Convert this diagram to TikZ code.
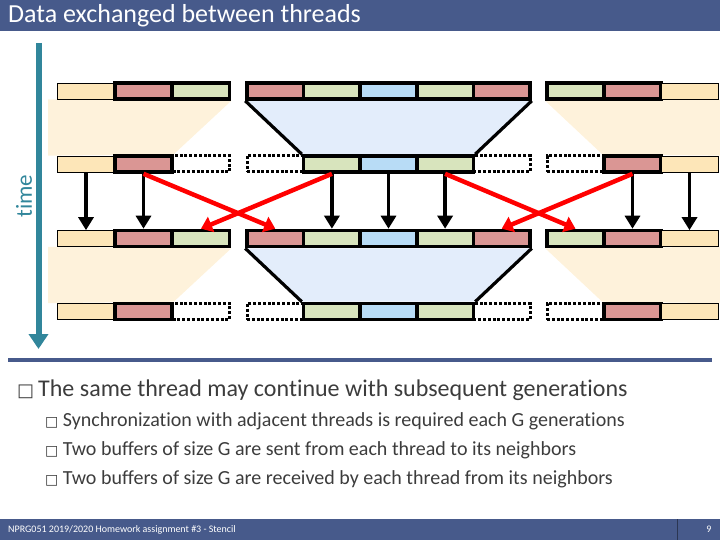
\documentclass[tikz,border=0pt]{standalone}
\usepackage{fontspec}
\setmainfont{Carlito}[Ligatures=NoCommon]
\newfontfamily\symfont{DejaVu Sans}
\usepackage{tikz}
\usetikzlibrary{arrows.meta,positioning,backgrounds}
\definecolor{slate}{HTML}{475A8B}
\definecolor{timeteal}{HTML}{31869B}
\definecolor{peach}{HTML}{FDE6B8}
\definecolor{rose}{HTML}{DA9694}
\definecolor{sage}{HTML}{D8E4BD}
\definecolor{sky}{HTML}{B8DCF6}
\definecolor{peachbg}{HTML}{FEF2DB}
\definecolor{skybg}{HTML}{E3EDFB}
\definecolor{ink}{HTML}{3C3C3C}
\tikzset{
  cell/.style={draw=black,line width=3.6pt,minimum width=57pt,
               minimum height=16pt,inner sep=0pt},
  thincell/.style={draw=black,line width=0.7pt,fill=peach,minimum width=57pt,
                   minimum height=16pt,inner sep=0pt},
  hole/.style={draw=black,line width=3pt,dash pattern=on 3pt off 1.8pt,
               minimum width=57pt,minimum height=16pt,inner sep=0pt},
  copyarrow/.style={-{Triangle[length=13pt,width=15pt]},line width=3.5pt,black},
  sendarrow/.style={-{Triangle[length=11pt,width=16pt]},line width=4.5pt,red},
  bullet/.style={anchor=west,inner sep=0pt,ink},
}

\begin{document}
\begin{tikzpicture}[x=1pt,y=-1pt]
  \useasboundingbox (0,0) rectangle (720,540);

  % Title bar
  \fill[slate](0,0)rectangle(720,31);
  \node[anchor=west,white,font=\fontsize{26}{28}\selectfont,inner sep=0pt]
    (title) at(8,16){Data exchanged between threads};

  % Generation 1 (full rows)
  \node[thincell] (L1a) at(86,91){};
  \node[cell,fill=rose] (L1b) at(143.5,91){};
  \node[cell,fill=sage] (L1c) at(201,91){};
  \node[cell,fill=rose,minimum width=56.6pt] (M1a) at(275.3,91){};
  \node[cell,fill=sage,minimum width=56.6pt] (M1b) at(331.9,91){};
  \node[cell,fill=sky,minimum width=56.6pt] (M1c) at(388.5,91){};
  \node[cell,fill=sage,minimum width=56.6pt] (M1d) at(445.1,91){};
  \node[cell,fill=rose,minimum width=56.6pt] (M1e) at(501.7,91){};
  \node[cell,fill=sage] (R1a) at(575.5,91){};
  \node[cell,fill=rose] (R1b) at(632.5,91){};
  \node[thincell] (R1c) at(689.5,91){};

  % Generation 2 (after G steps)
  \node[thincell] (L2a) at(86,164){};
  \node[cell,fill=rose] (L2b) at(143.5,164){};
  \node[hole] (L2c) at(201,164){};
  \node[hole,minimum width=56.6pt] (M2a) at(275.3,164){};
  \node[cell,fill=sage,minimum width=56.6pt] (M2b) at(331.9,164){};
  \node[cell,fill=sky,minimum width=56.6pt] (M2c) at(388.5,164){};
  \node[cell,fill=sage,minimum width=56.6pt] (M2d) at(445.1,164){};
  \node[hole,minimum width=56.6pt] (M2e) at(501.7,164){};
  \node[hole] (R2a) at(575.5,164){};
  \node[cell,fill=rose] (R2b) at(632.5,164){};
  \node[thincell] (R2c) at(689.5,164){};

  % Generation 3 (full rows again)
  \node[thincell] (L3a) at(86,238.5){};
  \node[cell,fill=rose] (L3b) at(143.5,238.5){};
  \node[cell,fill=sage] (L3c) at(201,238.5){};
  \node[cell,fill=rose,minimum width=56.6pt] (M3a) at(275.3,238.5){};
  \node[cell,fill=sage,minimum width=56.6pt] (M3b) at(331.9,238.5){};
  \node[cell,fill=sky,minimum width=56.6pt] (M3c) at(388.5,238.5){};
  \node[cell,fill=sage,minimum width=56.6pt] (M3d) at(445.1,238.5){};
  \node[cell,fill=rose,minimum width=56.6pt] (M3e) at(501.7,238.5){};
  \node[cell,fill=sage] (R3a) at(575.5,238.5){};
  \node[cell,fill=rose] (R3b) at(632.5,238.5){};
  \node[thincell] (R3c) at(689.5,238.5){};

  % Generation 4
  \node[thincell] (L4a) at(86,311.5){};
  \node[cell,fill=rose] (L4b) at(143.5,311.5){};
  \node[hole] (L4c) at(201,311.5){};
  \node[hole,minimum width=56.6pt] (M4a) at(275.3,311.5){};
  \node[cell,fill=sage,minimum width=56.6pt] (M4b) at(331.9,311.5){};
  \node[cell,fill=sky,minimum width=56.6pt] (M4c) at(388.5,311.5){};
  \node[cell,fill=sage,minimum width=56.6pt] (M4d) at(445.1,311.5){};
  \node[hole,minimum width=56.6pt] (M4e) at(501.7,311.5){};
  \node[hole] (R4a) at(575.5,311.5){};
  \node[cell,fill=rose] (R4b) at(632.5,311.5){};
  \node[thincell] (R4c) at(689.5,311.5){};

  % Shrinking computed areas (behind the cells)
  \begin{scope}[on background layer]
  \foreach \u/\d in {1/2,3/4}{
    \fill[peachbg]([xshift=-9pt]L\u a.south west)--(L\u c.south east)
      --(L\d b.north east)--([xshift=-9pt]L\d a.north west)--cycle;
    \fill[peachbg](R\u a.south west)--([xshift=2pt]R\u c.south east)
      --([xshift=2pt]R\d c.north east)--(R\d b.north west)--cycle;
    \fill[skybg](M\u a.south west)--(M\u e.south east)
      --(M\d d.north east)--(M\d b.north west)--cycle;
    \draw[line width=3.2pt](M\u a.south west)--(M\d b.north west);
    \draw[line width=3.2pt](M\u e.south east)--(M\d d.north east);
  }
  \end{scope}

  % Local copies
  \draw[copyarrow](L2a)--(L3a);
  \draw[copyarrow](L2b)--(L3b);
  \draw[copyarrow](M2b)--(M3b);
  \draw[copyarrow](M2c)--(M3c);
  \draw[copyarrow](M2d)--(M3d);
  \draw[copyarrow](R2b)--(R3b);
  \draw[copyarrow](R2c)--(R3c);

  % Exchanged borders
  \draw[sendarrow](L2b.south)--(M3a.north);
  \draw[sendarrow](M2b.south)--(L3c.north);
  \draw[sendarrow](M2d.south)--(R3a.north);
  \draw[sendarrow](R2b.south)--(M3e.north);

  % Time axis
  \coordinate (t0) at(38.5,43);
  \coordinate (t1) at(38.5,349);
  \draw[timeteal,line width=6pt,-{Triangle[length=15pt,width=19pt]}](t0)--(t1);
  \node[timeteal,rotate=90,font=\fontsize{23}{24}\selectfont,inner sep=0pt]
    (time) at(24,196){time};

  % Separator
  \draw[slate,line width=4pt](8,360)--(712,360);

  % Bullets
  \node[bullet,font=\fontsize{24}{26}\selectfont] (b0) at(17,390)
    {{\symfont\fontsize{18}{20}\selectfont□}\,The same thread may continue with subsequent generations};
  \node[bullet,font=\fontsize{20}{22}\selectfont] (b1) at(45,421)
    {{\symfont\fontsize{14}{16}\selectfont□} Synchronization with adjacent threads is required each G generations};
  \node[bullet,font=\fontsize{20}{22}\selectfont] (b2) at(45,450)
    {{\symfont\fontsize{14}{16}\selectfont□} Two buffers of size G are sent from each thread to its neighbors};
  \node[bullet,font=\fontsize{20}{22}\selectfont] (b3) at(45,479)
    {{\symfont\fontsize{14}{16}\selectfont□} Two buffers of size G are received by each thread from its neighbors};

  % Footer
  \fill[slate](0,519)rectangle(720,540);
  \draw[slate!60!black,line width=0.8pt](677,519)--(677,540);
  \node[anchor=west,white,font=\fontsize{10}{11}\selectfont,inner sep=0pt]
    (foot) at(8,529.5){NPRG051 2019/2020 Homework assignment \#3 - Stencil};
  \node[white,font=\fontsize{10}{11}\selectfont,inner sep=0pt]
    (page) at(709,529.5){9};
\end{tikzpicture}
\end{document}
